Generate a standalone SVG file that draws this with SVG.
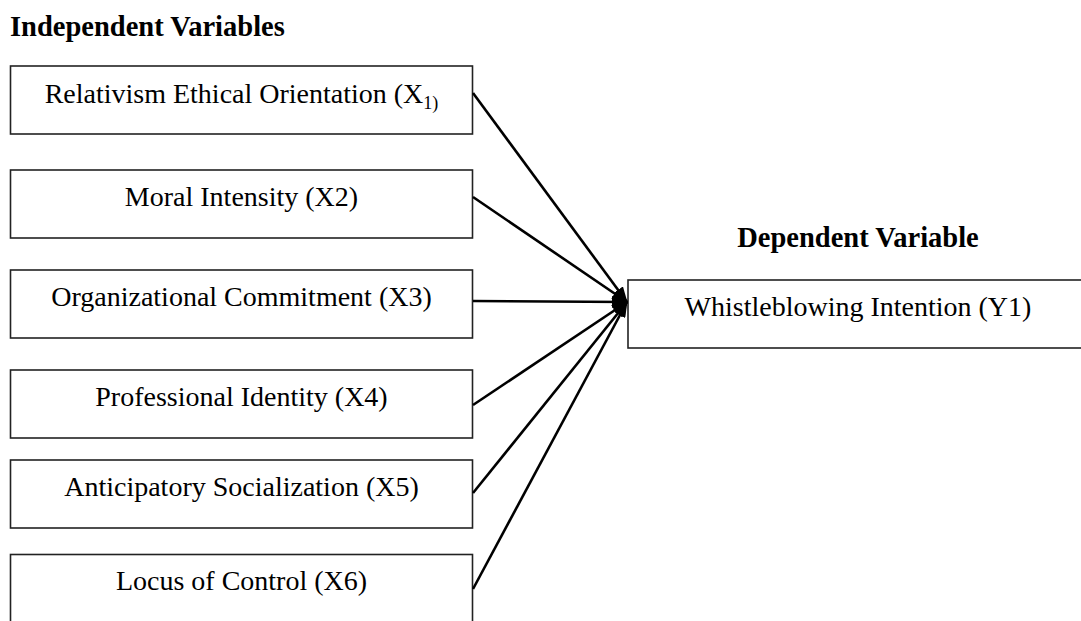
<svg xmlns="http://www.w3.org/2000/svg" width="1081" height="621" viewBox="0 0 1081 621">
<defs>
<style>
.box{fill:#fff;stroke:#222;stroke-width:1.6}
.lbl{font-family:"Liberation Serif","Times New Roman",serif;font-size:28px;fill:#000;text-anchor:middle}
.ttl{font-family:"Liberation Serif","Times New Roman",serif;font-size:28.5px;font-weight:bold;fill:#000}
.con{stroke:#000;stroke-width:2.6;fill:none;marker-end:url(#ah)}
</style>
<marker id="ah" markerWidth="16" markerHeight="12" refX="15" refY="6" orient="auto" markerUnits="userSpaceOnUse">
<path d="M0,0 L16,6 L0,12 Z" fill="#000"/>
</marker>
</defs>
<rect width="1081" height="621" fill="#fff"/>
<text class="ttl" x="10" y="36">Independent Variables</text>
<text class="ttl" x="858" y="247" text-anchor="middle">Dependent Variable</text>
<g id="x1">
<rect class="box" x="10.5" y="66" width="462" height="68"/>
<text class="lbl" x="241.5" y="103">Relativism Ethical Orientation (X<tspan font-size="18" dy="6">1)</tspan></text>
</g>
<g id="x2">
<rect class="box" x="10.5" y="170" width="462" height="68"/>
<text class="lbl" x="241.5" y="206">Moral Intensity (X2)</text>
</g>
<g id="x3">
<rect class="box" x="10.5" y="270" width="462" height="68"/>
<text class="lbl" x="241.5" y="306">Organizational Commitment (X3)</text>
</g>
<g id="x4">
<rect class="box" x="10.5" y="370" width="462" height="68"/>
<text class="lbl" x="241.5" y="406">Professional Identity (X4)</text>
</g>
<g id="x5">
<rect class="box" x="10.5" y="460" width="462" height="68"/>
<text class="lbl" x="241.5" y="496">Anticipatory Socialization (X5)</text>
</g>
<g id="x6">
<rect class="box" x="10.5" y="554.5" width="462" height="70"/>
<text class="lbl" x="241.5" y="590">Locus of Control (X6)</text>
</g>
<g id="y1">
<rect class="box" x="628" y="280" width="460" height="68"/>
<text class="lbl" x="858" y="316">Whistleblowing Intention (Y1)</text>
</g>
<g id="connectors">
<line class="con" x1="473" y1="93" x2="627" y2="302"/>
<line class="con" x1="473" y1="197" x2="627" y2="302"/>
<line class="con" x1="473" y1="301" x2="627" y2="302"/>
<line class="con" x1="473" y1="405" x2="627" y2="302"/>
<line class="con" x1="473" y1="493" x2="627" y2="302"/>
<line class="con" x1="473" y1="589" x2="627" y2="302"/>
</g>
</svg>
